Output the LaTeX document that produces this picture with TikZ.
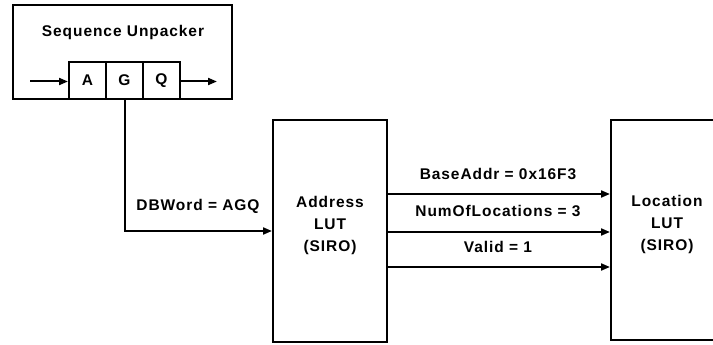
\documentclass[tikz,border=0pt]{standalone}
\usepackage{fontspec}
\setmainfont{Liberation Sans}[LetterSpace=6]
\usetikzlibrary{arrows.meta}
\tikzset{
  box/.style={draw, line width=2pt, inner sep=0pt},
  cell/.style={draw, line width=2pt, minimum width=37pt, minimum height=37pt, inner sep=0pt},
  lbl/.style={inner sep=0pt, font=\fontsize{15.5}{22}\selectfont\bfseries, align=center},
  conn/.style={line width=2pt, -{Triangle[length=9pt,width=7pt]}},
}
\begin{document}
\begin{tikzpicture}[x=1pt,y=-1pt]
\useasboundingbox (0,0) rectangle (713,345);
\clip (0,0) rectangle (713,345);
\node[box, minimum width=219pt, minimum height=94pt] (su) at (122.5,52) {};
\node[lbl] (sutitle) at (123,32) {Sequence Unpacker};
\node[cell] (A) at (87.5,80.5) {};
\node[cell] (G) at (124.5,80.5) {};
\node[cell] (Q) at (161.5,80.5) {};
\node[lbl] (Atxt) at (A.center) {A};
\node[lbl] (Gtxt) at (G.center) {G};
\node[lbl] (Qtxt) at (Q.center) {Q};
\coordinate (inL) at (30,81.5);
\coordinate (outR) at (217,81.5);
\draw[conn] (inL) -- (inL -| A.west);
\draw[conn] (Q.east |- outR) -- (outR);

\node[box, minimum width=114pt, minimum height=222pt] (addr) at (330,231) {};
\node[lbl] (addrtxt) at (330,225) {Address\\LUT\\(SIRO)};
\node[box, minimum width=130pt, minimum height=220pt] (loc) at (676,230) {};
\node[lbl] (loctxt) at (667,224) {Location\\LUT\\(SIRO)};

\draw[conn] (G.south) |- (addr.west);
\node[lbl] (dbw) at (198,206) {DBWord = AGQ};

\coordinate (r1) at (addr.east |- 0,194);
\coordinate (r2) at (addr.east |- 0,232);
\coordinate (r3) at (addr.east |- 0,267);
\draw[conn] (r1) -- (r1 -| loc.west);
\draw[conn] (r2) -- (r2 -| loc.west);
\draw[conn] (r3) -- (r3 -| loc.west);
\node[lbl] (ba) at (498,174) {BaseAddr = 0x16F3};
\node[lbl] (nl) at (498,211) {NumOfLocations = 3};
\node[lbl] (va) at (498,247) {Valid = 1};
\end{tikzpicture}
\end{document}
